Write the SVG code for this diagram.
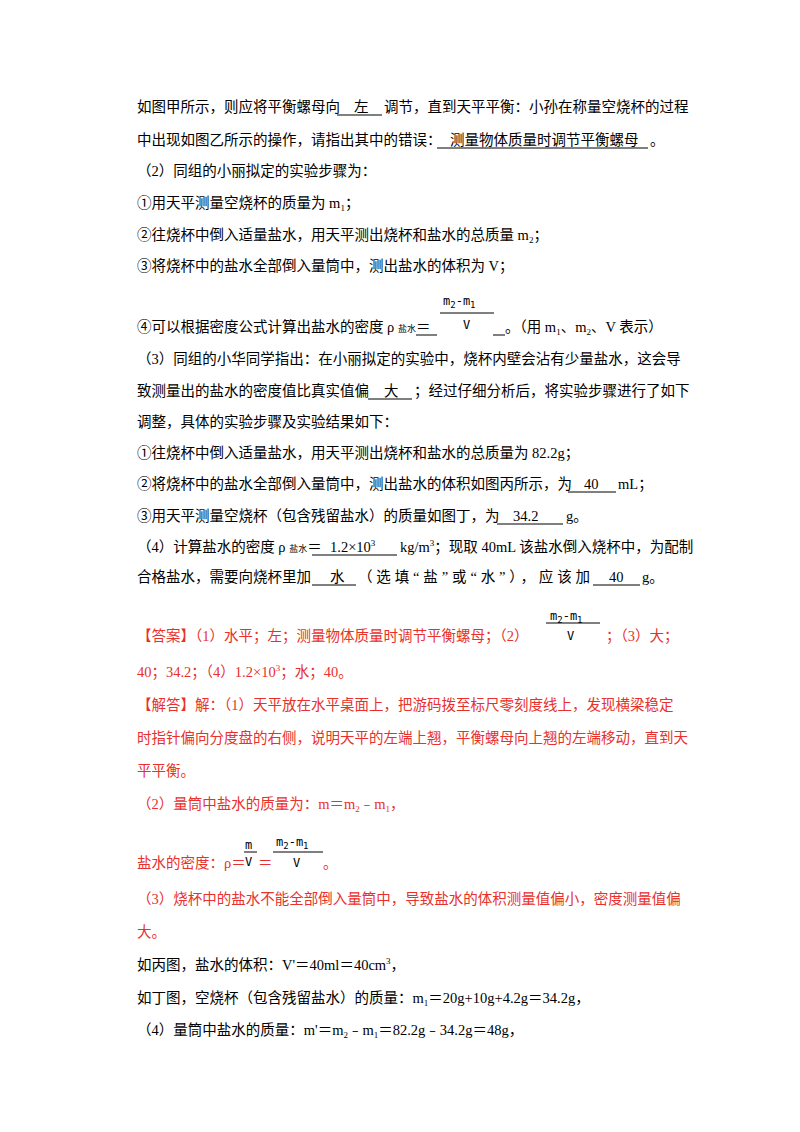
<svg xmlns="http://www.w3.org/2000/svg" width="800" height="1132" viewBox="0 0 800 1132">
<style>
text{font-family:"Liberation Serif","Noto Sans CJK SC",serif;font-size:14.5px;fill:#000}
.r{fill:#e8302c}
.u{stroke:#000;stroke-width:1}
.m{font-family:"DejaVu Sans Mono","Liberation Mono",monospace;font-size:12px}
.s{font-size:9px}
</style>
<rect width="800" height="1132" fill="#fff"/>
<g id="q1">
<text x="137" y="112">如图甲所示，则应将平衡螺母向<tspan x="354">左</tspan><tspan x="384">调节，直到天平平衡：小孙在称量空烧杯的过程</tspan></text>
<line class="u" x1="337" y1="115" x2="382" y2="115"/>
<text x="137" y="145">中出现如图乙所示的操作，请指出其中的错误：<tspan x="450">测量物体质量时调节平衡螺母</tspan><tspan x="650">。</tspan></text>
<line class="u" x1="437" y1="148" x2="648" y2="148"/>
<text x="137" y="176">（2）同组的小丽拟定的实验步骤为：</text>
<text x="137" y="208">①用天平测量空烧杯的质量为 m<tspan class="s" dy="3">1</tspan><tspan dy="-3">；</tspan></text>
<text x="137" y="240">②往烧杯中倒入适量盐水，用天平测出烧杯和盐水的总质量 m<tspan class="s" dy="3">2</tspan><tspan dy="-3">；</tspan></text>
<text x="137" y="271">③将烧杯中的盐水全部倒入量筒中，测出盐水的体积为 V；</text>
<text class="m" x="443" y="305">m<tspan class="s" dy="3">2</tspan><tspan dy="-3">-m</tspan><tspan class="s" dy="3">1</tspan></text>
<line class="u" x1="440" y1="313" x2="494" y2="313"/>
<text class="m" x="463" y="329">V</text>
<text x="137" y="332">④可以根据密度公式计算出盐水的密度 ρ <tspan class="s">盐水</tspan>＝</text>
<line class="u" x1="416" y1="335" x2="437" y2="335"/>
<line class="u" x1="493" y1="335" x2="505" y2="335"/>
<text x="505" y="332">。（用 m<tspan class="s" dy="3">1</tspan><tspan dy="-3">、m</tspan><tspan class="s" dy="3">2</tspan><tspan dy="-3">、V 表示）</tspan></text>
<text x="137" y="364">（3）同组的小华同学指出：在小丽拟定的实验中，烧杯内壁会沾有少量盐水，这会导</text>
<text x="137" y="396">致测量出的盐水的密度值比真实值偏<tspan x="384">大</tspan><tspan x="414">；经过仔细分析后，将实验步骤进行了如下</tspan></text>
<line class="u" x1="368" y1="399" x2="412" y2="399"/>
<text x="137" y="427">调整，具体的实验步骤及实验结果如下：</text>
<text x="137" y="458">①往烧杯中倒入适量盐水，用天平测出烧杯和盐水的总质量为 82.2g；</text>
<text x="137" y="489">②将烧杯中的盐水全部倒入量筒中，测出盐水的体积如图丙所示，为<tspan x="584">40</tspan><tspan x="618">mL；</tspan></text>
<line class="u" x1="568" y1="492" x2="616" y2="492"/>
<text x="137" y="521">③用天平测量空烧杯（包含残留盐水）的质量如图丁，为<tspan x="513">34.2</tspan><tspan x="566">g。</tspan></text>
<line class="u" x1="497" y1="524" x2="563" y2="524"/>
<text x="137" y="552">（4）计算盐水的密度 ρ <tspan class="s">盐水</tspan>＝<tspan x="330">1.2×10</tspan><tspan class="s" dy="-6">3</tspan><tspan x="400" dy="6">kg/m</tspan><tspan class="s" dy="-6">3</tspan><tspan dy="6">；现取 40mL 该盐水倒入烧杯中，为配制</tspan></text>
<line class="u" x1="312" y1="555" x2="397" y2="555"/>
<text x="137" y="582">合格盐水，需要向烧杯里加<tspan x="330">水</tspan><tspan x="358" textLength="232">（选填“盐”或“水”），应该加</tspan><tspan x="609">40</tspan><tspan x="642">g。</tspan></text>
<line class="u" x1="312" y1="585" x2="356" y2="585"/>
<line class="u" x1="593" y1="585" x2="640" y2="585"/>
</g>
<g id="answer">
<text class="m" x="550" y="620">m<tspan class="s" dy="3">2</tspan><tspan dy="-3">-m</tspan><tspan class="s" dy="3">1</tspan></text>
<line class="u" x1="546" y1="623" x2="600" y2="623"/>
<text class="m" x="567" y="640">V</text>
<text class="r" x="137" y="641">【答案】（1）水平；左；测量物体质量时调节平衡螺母；（2）<tspan x="606">；（3）大；</tspan></text>
<text class="r" x="137" y="677">40；34.2；（4）1.2×10<tspan class="s" dy="-6">3</tspan><tspan dy="6">；水；40。</tspan></text>
<text class="r" x="137" y="710">【解答】解：（1）天平放在水平桌面上，把游码拨至标尺零刻度线上，发现横梁稳定</text>
<text class="r" x="137" y="743">时指针偏向分度盘的右侧，说明天平的左端上翘，平衡螺母向上翘的左端移动，直到天</text>
<text class="r" x="137" y="776">平平衡。</text>
<text class="r" x="137" y="809">（2）量筒中盐水的质量为：m＝m<tspan class="s" dy="3">2</tspan><tspan dy="-3">﹣m</tspan><tspan class="s" dy="3">1</tspan><tspan dy="-3">，</tspan></text>
<text class="m" x="245" y="849">m</text>
<line class="u" x1="244" y1="852" x2="257" y2="852"/>
<text class="m" x="245" y="866">V</text>
<text class="m" x="276" y="846">m<tspan class="s" dy="3">2</tspan><tspan dy="-3">-m</tspan><tspan class="s" dy="3">1</tspan></text>
<line class="u" x1="273" y1="852" x2="323" y2="852"/>
<text class="m" x="293" y="867">V</text>
<text class="r" x="137" y="868">盐水的密度：ρ＝<tspan x="258">＝</tspan><tspan x="323">。</tspan></text>
<text class="r" x="137" y="904">（3）烧杯中的盐水不能全部倒入量筒中，导致盐水的体积测量值偏小，密度测量值偏</text>
<text class="r" x="137" y="937">大。</text>
<text x="137" y="970">如丙图，盐水的体积：V'＝40ml＝40cm<tspan class="s" dy="-6">3</tspan><tspan dy="6">，</tspan></text>
<text x="137" y="1003">如丁图，空烧杯（包含残留盐水）的质量：m<tspan class="s" dy="3">1</tspan><tspan dy="-3">＝20g+10g+4.2g＝34.2g，</tspan></text>
<text x="137" y="1035">（4）量筒中盐水的质量：m'＝m<tspan class="s" dy="3">2</tspan><tspan dy="-3">﹣m</tspan><tspan class="s" dy="3">1</tspan><tspan dy="-3">＝82.2g﹣34.2g＝48g，</tspan></text>
</g>
</svg>
